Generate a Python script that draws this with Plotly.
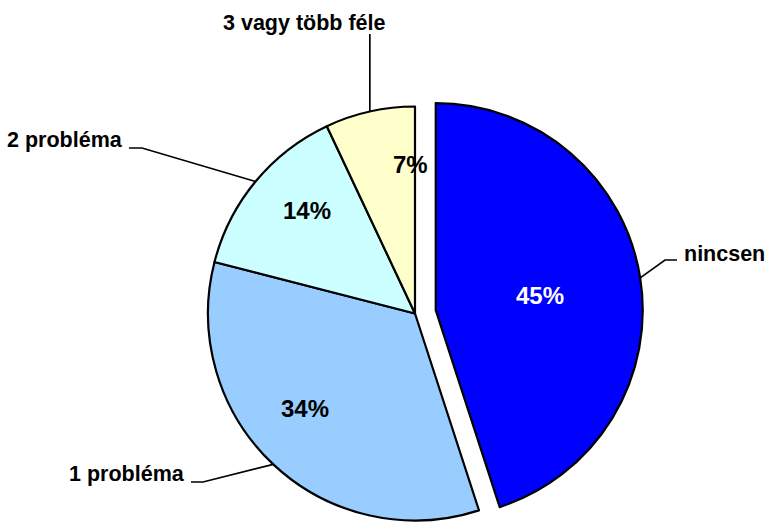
import math
import plotly.graph_objects as go

labels = ["nincsen", "1 probléma", "2 probléma", "3 vagy több féle"]
values = [45, 34, 14, 7]
colors = ["#0000FF", "#99CCFF", "#CCFFFF", "#FFFFCC"]
pct_colors = ["white", "black", "black", "black"]
pulled = "nincsen"

W, H = 765, 523
CX, CY, R = 415, 313.5, 207   # pie centre / radius in pixels
PULL = 21                     # pixels the pulled slice is moved out
FONT = "Liberation Sans, Arial, sans-serif"
CLEAR = "rgba(0,0,0,0)"

total = sum(values)
mid = []
acc = 0
for v in values:
    mid.append((acc + v / 2) / total * 360)   # bisector, degrees clockwise from 12 o'clock
    acc += v


def point(cx, cy, r, ang):
    a = math.radians(ang)
    return cx + r * math.sin(a), cy - r * math.cos(a)


def domain(cx, cy, r):
    return dict(x=[(cx - r) / W, (cx + r) / W],
                y=[max(0, (H - cy - r) / H), min(1, (H - cy + r) / H)])


ip = labels.index(pulled)
bx, by = point(CX, CY, PULL, mid[ip])

pct = [f"{round(v / total * 100)}%" for v in values]

fig = go.Figure()

# other slices, pulled slice left empty
fig.add_trace(go.Pie(
    labels=labels, values=values, sort=False, direction="clockwise", rotation=0,
    marker=dict(colors=[CLEAR if i == ip else c for i, c in enumerate(colors)],
                line=dict(color=[CLEAR if i == ip else "black" for i in range(len(values))], width=2.2)),
    textinfo="none", domain=domain(CX, CY, R), hoverinfo="skip", showlegend=False,
))

# pulled slice, drawn on its own shifted pie
fig.add_trace(go.Pie(
    labels=labels, values=values, sort=False, direction="clockwise", rotation=0,
    marker=dict(colors=[c if i == ip else CLEAR for i, c in enumerate(colors)],
                line=dict(color=["black" if i == ip else CLEAR for i in range(len(values))], width=2.2)),
    textinfo="none", domain=domain(bx, by, R), hoverinfo="skip", showlegend=False,
))

# percent labels: (fraction of radius, angle offset from bisector)
pct_pos = [(0.51, 1), (0.70, 6), (0.72, 4), (0.72, 11)]

# leader lines: elbow / end points and label anchors are layout only
leaders = {
    "nincsen": dict(path=[(665, 260), (677, 260)], x=682, y=254, anchor="left"),
    "1 probléma": dict(path=[(203, 482), (191, 482)], x=187, y=474, anchor="right"),
    "2 probléma": dict(path=[(142, 148), (129, 148)], x=125, y=139.5, anchor="right"),
    "3 vagy több féle": dict(path=[(None, 34)], x=304, y=22.5, anchor="center"),
}

for i, lab in enumerate(labels):
    cx, cy = (bx, by) if i == ip else (CX, CY)
    px, py = point(cx, cy, R, mid[i])
    spec = leaders[lab]
    xs, ys = [px], [py]
    for x, y in spec["path"]:
        xs.append(px if x is None else x)
        ys.append(y)
    fig.add_trace(go.Scatter(x=xs, y=ys, mode="lines", line=dict(color="black", width=1.7),
                             hoverinfo="skip", showlegend=False))
    fig.add_annotation(x=spec["x"], y=spec["y"], xref="x", yref="y", text=f"<b>{lab}</b>",
                       showarrow=False, xanchor=spec["anchor"], yanchor="middle",
                       font=dict(family=FONT, size=21.5, color="black"))

    frac, dang = pct_pos[i]
    tx, ty = point(cx, cy, R * frac, mid[i] + dang)
    fig.add_annotation(x=tx, y=ty, xref="x", yref="y", text=f"<b>{pct[i]}</b>",
                       showarrow=False, xanchor="center", yanchor="middle",
                       font=dict(family=FONT, size=24, color=pct_colors[i]))

fig.update_layout(
    width=W, height=H,
    margin=dict(l=0, r=0, t=0, b=0),
    paper_bgcolor="white", plot_bgcolor="white",
    xaxis=dict(range=[0, W], visible=False, fixedrange=True),
    yaxis=dict(range=[H, 0], visible=False, fixedrange=True),
    showlegend=False,
)

fig.write_html("out.html", config={"displayModeBar": False},
               post_script="document.body.style.margin = '0';")
